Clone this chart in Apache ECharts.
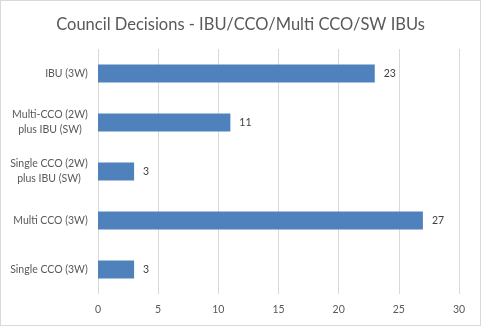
<!DOCTYPE html>
<html>
<head>
<meta charset="utf-8">
<script src="https://cdn.jsdelivr.net/npm/echarts@6/dist/echarts.min.js"></script>
<style>
  html, body { margin: 0; padding: 0; background: #fff; }
  #chart { width: 481px; height: 326px; box-sizing: border-box; border: 1px solid #d9d9d9; }
</style>
</head>
<body>
<div id="chart"></div>
<script>
// Category names, top to bottom
const categories = [
  'IBU (3W)',
  'Multi-CCO (2W)\nplus IBU (SW)',
  'Single CCO (2W)\nplus IBU (SW)',
  'Multi CCO (3W)',
  'Single CCO (3W)'
];
// Number of decisions per category
const decisions = [23, 11, 3, 27, 3];
// Value axis ticks
const valueTicks = [0, 5, 10, 15, 20, 25, 30];

const FONT = 'Lato';
const LABEL_SIZE = 10.5;

// Measure text so multi-line category labels can be centred line by line
const ctx = document.createElement('canvas').getContext('2d');
ctx.font = LABEL_SIZE + 'px "' + FONT + '"';
const rich = {};
const labelKeys = categories.map((c, i) => {
  const lines = c.split('\n');
  const w = Math.ceil(Math.max(...lines.map(l => ctx.measureText(l).width)));
  const key = 'c' + i;
  rich[key] = { width: w, align: 'center', fontFamily: FONT, fontSize: LABEL_SIZE, color: '#595959', lineHeight: 15 };
  return key;
});

const chart = echarts.init(document.getElementById('chart'), null, { renderer: 'canvas' });
chart.setOption({
  animation: false,
  title: {
    text: 'Council Decisions - IBU/CCO/Multi CCO/SW IBUs',
    left: 'center',
    top: 10,
    textStyle: { fontFamily: FONT, fontSize: 16.5, fontWeight: 'normal', color: '#595959' }
  },
  grid: { left: 97, right: 21, top: 48, bottom: 31, containLabel: false },
  xAxis: {
    type: 'value',
    min: valueTicks[0],
    max: valueTicks[valueTicks.length - 1],
    interval: valueTicks[1] - valueTicks[0],
    axisLine: { show: false },
    axisTick: { show: false },
    splitLine: { show: true, lineStyle: { color: '#d9d9d9', width: 1 } },
    axisLabel: { color: '#595959', fontFamily: FONT, fontSize: LABEL_SIZE, margin: 10 }
  },
  yAxis: {
    type: 'category',
    inverse: true,
    data: categories,
    axisLine: { show: false },
    axisTick: { show: false },
    axisLabel: {
      margin: 10,
      formatter: (val, idx) => val.split('\n').map(l => '{' + labelKeys[idx] + '|' + l + '}').join('\n'),
      rich: rich
    }
  },
  series: [{
    type: 'bar',
    data: decisions,
    barWidth: 18,
    itemStyle: { color: '#4f81bd' },
    label: {
      show: true,
      position: 'right',
      distance: 9,
      color: '#404040',
      fontFamily: FONT,
      fontSize: LABEL_SIZE
    }
  }]
});
</script>
</body>
</html>
